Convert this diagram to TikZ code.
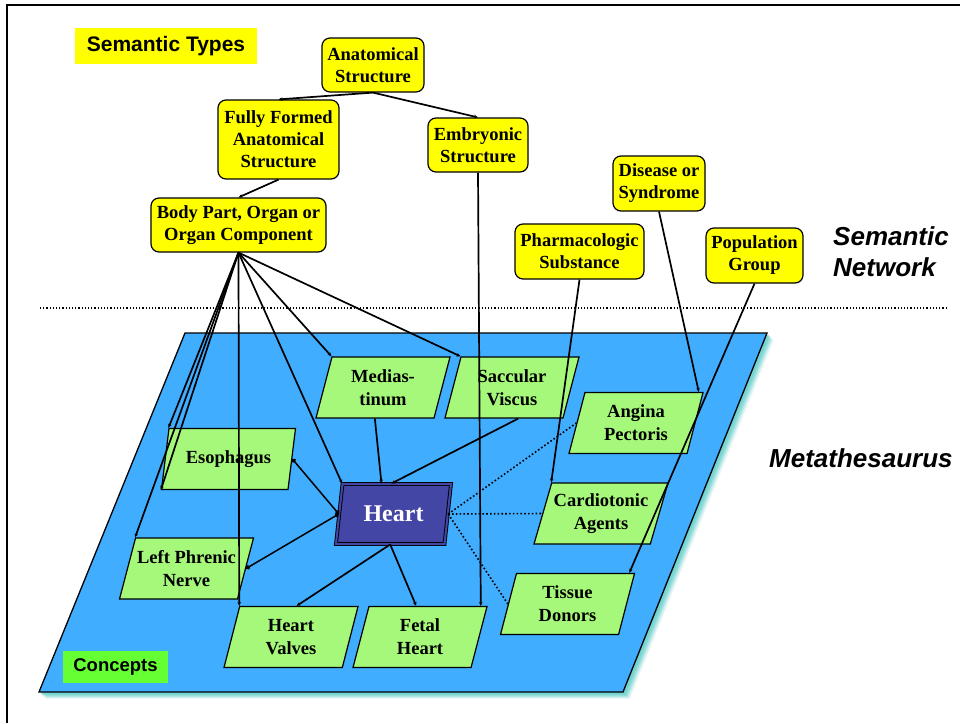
\documentclass[tikz,border=0pt]{standalone}
\usepackage{fontspec}
\setmainfont{Liberation Serif}
\setsansfont{Liberation Sans}
\usetikzlibrary{shapes.geometric,arrows.meta,calc}
\definecolor{ylw}{HTML}{FFFF00}
\definecolor{grn}{HTML}{A6F87A}
\definecolor{plane}{HTML}{40ADFF}
\definecolor{hblue}{HTML}{4446A6}
\definecolor{lblgreen}{HTML}{66FF33}
\definecolor{shadowc}{HTML}{6FD3D0}
\tikzset{
  stype/.style={draw=black, line width=1.2pt, fill=ylw, rounded corners=8pt, align=center,
    font=\fontsize{18.5}{22}\selectfont\bfseries, inner sep=0pt,
    execute at begin node={\rule{0pt}{18pt}}},
  concept/.style={trapezium, trapezium left angle=66.1, trapezium right angle=113.9,
    trapezium stretches body, draw=black, line width=1.2pt, fill=grn,
    minimum width=134pt, minimum height=61pt, inner sep=0pt, align=center,
    font=\fontsize{18.5}{23}\selectfont\bfseries},
  link/.style={line width=1.7pt, -{Stealth[length=4pt,width=3.5pt]}},
  dotend/.style={line width=1.5pt, {Circle[length=4.5pt]}-{Circle[length=4.5pt]}},
  dotlink/.style={line width=1.6pt, dash pattern=on 1.6pt off 2.2pt},
  sslabel/.style={font=\sffamily\bfseries\itshape\fontsize{26}{31}\selectfont, align=left}
}
\begin{document}
\begin{tikzpicture}[x=1pt,y=-1pt]
\useasboundingbox (0,0) rectangle (960,723);
\fill[white] (0,0) rectangle (960,723);
% frame
\draw[line width=1.8pt] (7,723) -- (7,5) -- (960,5);
% separator
\draw[line width=1.2pt, dash pattern=on 1.2pt off 2pt] (40,308) -- (948,308);
% plane shadow
\foreach \s/\o in {7/0.12,6/0.2,5/0.3,4/0.4,3/0.55,2/0.7}{
  \fill[shadowc, opacity=\o] ({185+\s},{333+\s}) -- ({767+\s},{333+\s}) -- ({623+\s},{692+\s}) -- ({39+\s},{692+\s}) -- cycle;
}
\draw[fill=plane, line width=1.3pt] (185,333) -- (767,333) -- (623,692) -- (39,692) -- cycle;

% labels
\node[fill=ylw, minimum width=182pt, minimum height=36pt, inner sep=0pt,
  font=\sffamily\bfseries\fontsize{21}{25}\selectfont] (st) at (166,46) {Semantic Types};
\node[fill=lblgreen, minimum width=105pt, minimum height=32pt, inner sep=0pt,
  font=\sffamily\bfseries\fontsize{18.5}{22}\selectfont] (cl) at (115.5,667) {Concepts};
\node[sslabel, anchor=west, inner sep=0pt] (sn) at (833,252) {Semantic\\Network};
\node[sslabel, anchor=base west, inner sep=0pt] (meta) at (769,467) {Metathesaurus};

% semantic types
\node[stype, minimum width=102pt, minimum height=54pt] (anat) at (373,65) {Anatomical\\Structure};
\node[stype, minimum width=121pt, minimum height=79pt] (fully) at (278.5,139.5) {Fully Formed\\Anatomical\\Structure};
\node[stype, minimum width=100pt, minimum height=54pt] (embryo) at (478,145) {Embryonic\\Structure};
\node[stype, minimum width=175pt, minimum height=54pt] (body) at (238.5,225) {Body Part, Organ or\\Organ Component};
\node[stype, minimum width=92pt, minimum height=55pt] (disease) at (659,183.5) {Disease or\\Syndrome};
\node[stype, minimum width=129pt, minimum height=55pt] (pharma) at (579.5,251.5) {Pharmacologic\\Substance};
\node[stype, minimum width=97pt, minimum height=55pt] (popul) at (754.5,255.5) {Population\\Group};

% concepts
\node[concept] (medi) at (383,387.5) {Medias-\\tinum};
\node[concept] (sacc) at (512,387.5) {Saccular\\Viscus};
\node[concept] (esop) at (228.5,459) {Esophagus};
\node[concept] (lpn) at (186.5,568.5) {Left Phrenic\\Nerve};
\node[concept] (hv) at (291,637) {Heart\\Valves};
\node[concept] (fh) at (420,637) {Fetal\\Heart};
\node[concept] (ap) at (636,423) {Angina\\Pectoris};
\node[concept] (ca) at (601,513.5) {Cardiotonic\\Agents};
\node[concept] (td) at (567.5,604) {Tissue\\Donors};
\node[trapezium, trapezium left angle=67.9, trapezium right angle=112.1, trapezium stretches body,
  draw=black, line width=0.9pt, double=hblue, double distance=2pt, fill=hblue,
  minimum width=115pt, minimum height=60pt, inner sep=0pt, text=white,
  font=\fontsize{24}{28}\selectfont\bfseries] (heart) at (393.5,514) {Heart};

% semantic network links
\draw[link] (anat.south) -- (fully.north);
\draw[link] (anat.south) -- (embryo.north);
\draw[link] (fully.south) -- (body.north);
\draw[link] (body.south) -- (esop.top left corner);
\draw[link] (body.south) -- (esop.bottom left corner);
\draw[link] (body.south) -- (lpn.top left corner);
\draw[link] (body.south) -- (hv.top left corner);
\draw[link] (body.south) -- (heart.top left corner);
\draw[link] (body.south) -- (medi.top left corner);
\draw[link] (body.south) -- (sacc.top left corner);
\draw[link] (embryo.south) -- ($(fh.top right corner)+(-7,0)$);
\draw[link] (pharma.south) -- (ca.top left corner);
\draw[link] (disease.south) -- ($(ap.top right corner)+(-5,0)$);
\draw[link] (popul.south) -- ($(td.top right corner)+(-6,0)$);

% concept links
\draw[link] ($(medi.bottom left corner)!0.5!(medi.bottom right corner)$) -- ($(heart.top left corner)!0.36!(heart.top right corner)$);
\draw[link] ($(sacc.bottom left corner)!0.62!(sacc.bottom right corner)$) -- ($(heart.top left corner)!0.45!(heart.top right corner)$);
\draw[dotend] ($(heart.top left corner)!0.5!(heart.bottom left corner)$) -- ($(esop.top right corner)!0.5!(esop.bottom right corner)$);
\draw[dotend] ($(heart.top left corner)!0.5!(heart.bottom left corner)$) -- ($(lpn.top right corner)!0.5!(lpn.bottom right corner)$);
\draw[link] ($(heart.bottom left corner)!0.5!(heart.bottom right corner)$) -- ($(hv.top left corner)!0.48!(hv.top right corner)$);
\draw[link] ($(heart.bottom left corner)!0.5!(heart.bottom right corner)$) -- ($(fh.top left corner)!0.4!(fh.top right corner)$);
\draw[dotlink] ($(heart.top right corner)!0.5!(heart.bottom right corner)$) -- ($(ap.top left corner)!0.5!(ap.bottom left corner)$);
\draw[dotlink] ($(heart.top right corner)!0.5!(heart.bottom right corner)$) -- ($(ca.top left corner)!0.5!(ca.bottom left corner)$);
\draw[dotlink] ($(heart.top right corner)!0.5!(heart.bottom right corner)$) -- ($(td.top left corner)!0.5!(td.bottom left corner)$);
\end{tikzpicture}
\end{document}
